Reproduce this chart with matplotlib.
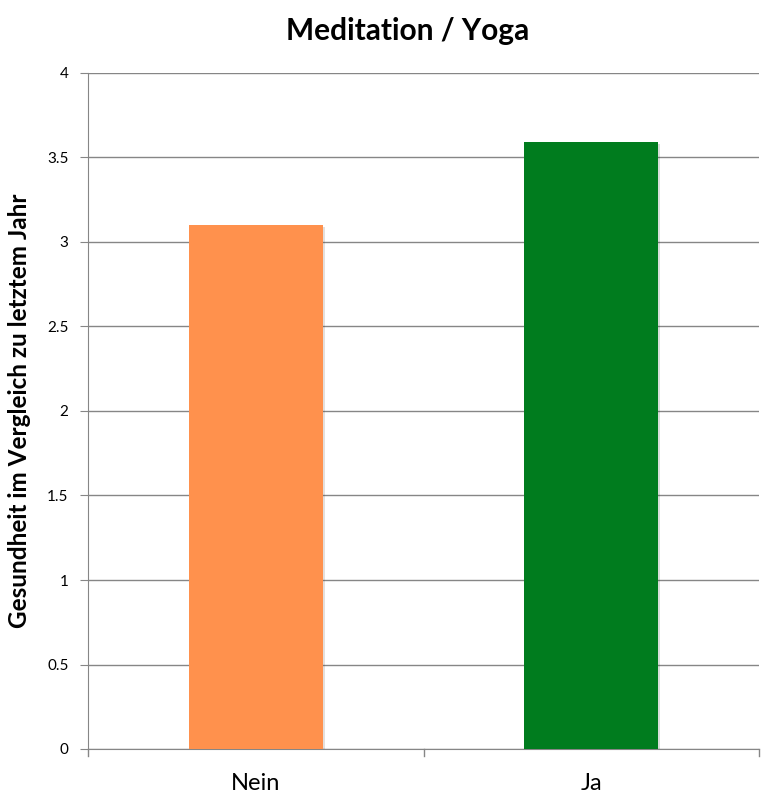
import matplotlib
matplotlib.use('Agg')
import matplotlib.pyplot as plt
import matplotlib.patheffects as pe

# Daten
kategorien = ['Nein', 'Ja']
werte = [3.1, 3.59]
farben = ['#FF914D', '#007C1E']
y_ticks = [0, 0.5, 1, 1.5, 2, 2.5, 3, 3.5, 4]
y_tick_labels = ['0', '0.5', '1', '1.5', '2', '2.5', '3', '3.5', '4']

plt.rcParams['font.family'] = ['Lato', 'DejaVu Sans']

fig = plt.figure(figsize=(7.73, 7.99), dpi=100)
ax = fig.add_axes([88 / 773, 50 / 799, (759 - 88) / 773, (749 - 73) / 799])

pos = list(range(len(kategorien)))
balken = ax.bar(pos, werte, width=0.4, color=farben, zorder=3)
for b in balken:
    b.set_path_effects([pe.SimplePatchShadow(offset=(1.5, -1.5), alpha=0.15), pe.Normal()])

ax.set_xlim(-0.5, len(kategorien) - 0.5)
ax.set_ylim(0, 4)
ax.set_yticks(y_ticks)
ax.set_yticklabels(y_tick_labels)
ax.set_xticks(pos)
ax.set_xticklabels(kategorien, fontsize=17)
ax.tick_params(axis='x', length=0, pad=17)
ax.tick_params(axis='y', length=6, color='#868686', labelsize=11, pad=8)

# Kategoriengrenzen als Striche unter der x-Achse
for xb in [-0.5, 0.5, 1.5]:
    ax.plot([xb, xb], [0, -0.04], color='#868686', lw=1, clip_on=False)

ax.grid(axis='y', color='#868686', lw=1, zorder=0)
for s in ['top', 'right']:
    ax.spines[s].set_visible(False)
for s in ['left', 'bottom']:
    ax.spines[s].set_color('#868686')

ax.set_ylabel('Gesundheit im Vergleich zu letztem Jahr', fontsize=17.5, fontweight='bold', labelpad=12)
fig.text(408 / 773, 1 - 31 / 799, 'Meditation / Yoga', fontsize=21.5, fontweight='bold',
         ha='center', va='center')

fig.savefig('out.png', dpi=100)
